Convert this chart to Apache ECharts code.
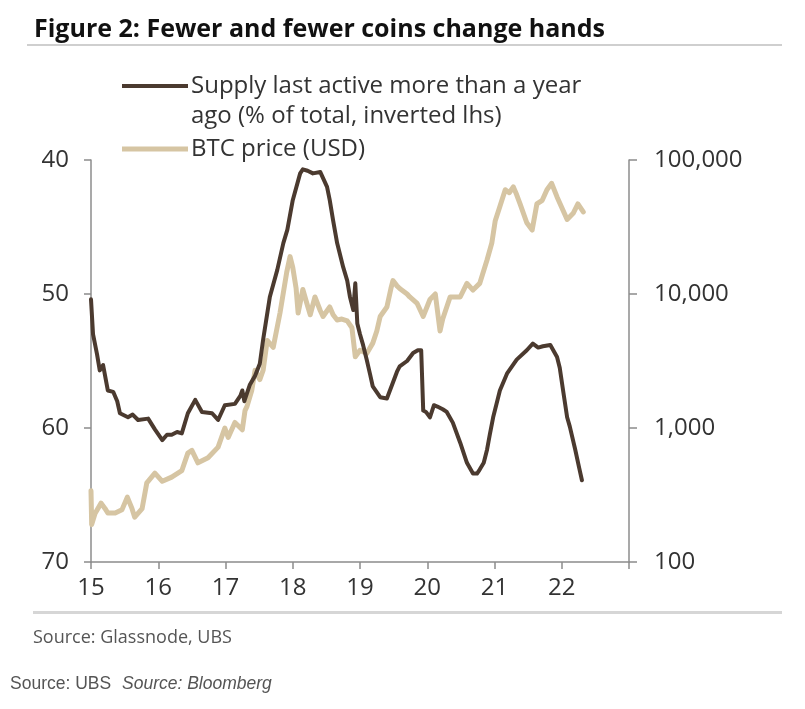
<!DOCTYPE html>
<html>
<head>
<meta charset="utf-8">
<script src="https://cdn.jsdelivr.net/npm/echarts@6/dist/echarts.min.js"></script>
<style>
  html, body { margin: 0; padding: 0; background: #fff; }
  #chart { width: 805px; height: 709px; }
</style>
</head>
<body>
<div id="chart"></div>
<script>
// supply last active more than a year ago, % of total (left axis, inverted)
var supplyYears = [15.00, 15.03, 15.09, 15.13, 15.18, 15.25, 15.33, 15.39, 15.43, 15.55, 15.62, 15.70, 15.85, 15.95,
    16.06, 16.13, 16.20, 16.28, 16.35, 16.44, 16.55, 16.65, 16.80, 16.89, 16.99,
    17.14, 17.22, 17.25, 17.28, 17.36, 17.44, 17.51, 17.56, 17.66, 17.77, 17.86, 17.92,
    18.00, 18.11, 18.15, 18.22, 18.30, 18.41, 18.51, 18.55, 18.60, 18.66, 18.75, 18.81, 18.85, 18.90, 18.93, 18.96,
    19.00, 19.04, 19.10, 19.15, 19.19, 19.30, 19.40, 19.49, 19.55, 19.59, 19.70, 19.79, 19.86, 19.91, 19.94, 19.98,
    20.04, 20.10, 20.15, 20.23, 20.29, 20.38, 20.49, 20.59, 20.68, 20.74, 20.78, 20.84, 20.89, 20.93, 20.98,
    21.04, 21.08, 21.19, 21.33, 21.48, 21.57, 21.65, 21.72, 21.83, 21.93, 21.97,
    22.02, 22.08, 22.12, 22.20, 22.26, 22.30];
var supplyValues = [50.4, 53.0, 54.5, 55.7, 55.3, 57.2, 57.3, 58.0, 58.9, 59.2, 59.0, 59.4, 59.3, 60.1,
    60.9, 60.5, 60.5, 60.3, 60.4, 58.9, 57.9, 58.8, 58.9, 59.4, 58.3,
    58.2, 57.6, 57.2, 58.0, 56.8, 56.1, 55.2, 53.4, 50.2, 48.2, 46.2, 45.2,
    43.0, 41.0, 40.7, 40.8, 41.0, 40.9, 42.0, 43.0, 44.5, 46.2, 48.0, 49.0, 50.2, 51.2, 49.2, 52.2,
    53.0, 53.7, 54.9, 56.0, 56.9, 57.7, 57.8, 56.6, 55.8, 55.4, 55.0, 54.4, 54.2, 54.2, 58.7, 58.8,
    59.2, 58.3, 58.4, 58.6, 58.8, 59.6, 61.1, 62.6, 63.4, 63.4, 63.1, 62.6, 61.6, 60.5, 59.2,
    58.0, 57.2, 55.9, 54.9, 54.2, 53.7, 54.0, 53.9, 53.8, 54.7, 55.5,
    57.2, 59.2, 59.9, 61.6, 63.0, 63.9];

// BTC price in USD (right axis, log)
var priceYears = [15.00, 15.01, 15.06, 15.15, 15.21, 15.25, 15.36, 15.46, 15.54, 15.61, 15.65, 15.76, 15.83, 15.95,
    16.06, 16.20, 16.35, 16.44, 16.50, 16.59, 16.74, 16.89, 16.99,
    17.04, 17.14, 17.25, 17.29, 17.32, 17.39, 17.44, 17.51, 17.56, 17.62, 17.71, 17.81, 17.91, 17.96,
    18.00, 18.05, 18.08, 18.15, 18.21, 18.26, 18.33, 18.41, 18.45, 18.51, 18.55, 18.60, 18.66, 18.73, 18.81, 18.88, 18.93,
    19.00, 19.10, 19.19, 19.25, 19.30, 19.40, 19.46, 19.49, 19.55, 19.59, 19.70, 19.74, 19.85, 19.94,
    20.04, 20.12, 20.19, 20.23, 20.34, 20.49, 20.59, 20.68, 20.78, 20.89, 20.96,
    21.01, 21.08, 21.16, 21.22, 21.28, 21.33, 21.38, 21.48, 21.56, 21.63, 21.71, 21.78, 21.85, 21.93,
    22.02, 22.08, 22.17, 22.24, 22.32];
var priceValues = [340, 190, 230, 275, 250, 232, 232, 245, 305, 250, 216, 250, 390, 460,
    400, 430, 480, 650, 680, 550, 600, 720, 1000,
    850, 1100, 970, 1350, 1450, 1900, 2700, 2300, 2700, 4500, 4000, 7200, 14500, 19000,
    15800, 11000, 7200, 10800, 8500, 7000, 9500, 7500, 6800, 7500, 8000, 7000, 6400, 6500, 6300, 5600, 3400,
    3800, 3600, 4300, 5300, 6800, 8000, 11000, 12600, 11500, 11000, 10000, 9500, 8500, 6800,
    9100, 10000, 5300, 6500, 9500, 9500, 12000, 10700, 12000, 18000, 24000,
    35000, 45000, 60000, 57000, 63000, 55000, 47000, 34000, 30000, 47000, 50000, 60000, 67000, 53000,
    42000, 36000, 40000, 47000, 41000];

var xTicks = [15, 16, 17, 18, 19, 20, 21, 22];

var darkColor = '#4b3a2f';
var tanColor = '#d6c5a3';
var axisColor = '#8c8c8c';
var textColor = '#333333';
var font = '"Open Sans", "Noto Sans", sans-serif';
var srcFont = '"Liberation Sans", Arial, sans-serif';

function pairs(xs, ys) {
    return xs.map(function (x, i) { return [x, ys[i]]; });
}

var myChart = echarts.init(document.getElementById('chart'));

var option = {
    animation: false,
    backgroundColor: '#ffffff',
    textStyle: { fontFamily: font },
    grid: { left: 91, right: 176, top: 160, bottom: 147, containLabel: false },
    xAxis: {
        type: 'value',
        min: 15,
        max: 23,
        interval: 1,
        splitLine: { show: false },
        axisLine: { lineStyle: { color: axisColor, width: 1.5 } },
        axisTick: { show: true, length: 7, lineStyle: { color: axisColor, width: 1.5 } },
        axisLabel: {
            margin: 14,
            fontSize: 24,
            color: textColor,
            fontFamily: font,
            formatter: function (v) { return xTicks.indexOf(v) >= 0 ? String(v) : ''; }
        }
    },
    yAxis: [{
        type: 'value',
        inverse: true,
        min: 40,
        max: 70,
        interval: 10,
        position: 'left',
        splitLine: { show: false },
        axisLine: { show: true, lineStyle: { color: axisColor, width: 1.5 } },
        axisTick: { show: true, length: 7, lineStyle: { color: axisColor, width: 1.5 } },
        axisLabel: { margin: 22, fontSize: 24, color: textColor, fontFamily: font }
    }, {
        type: 'log',
        logBase: 10,
        min: 100,
        max: 100000,
        position: 'right',
        splitLine: { show: false },
        axisLine: { show: true, lineStyle: { color: axisColor, width: 1.5 } },
        axisTick: { show: true, length: 8, lineStyle: { color: axisColor, width: 1.5 } },
        minorTick: { show: false },
        axisLabel: {
            margin: 25,
            fontSize: 24,
            color: textColor,
            fontFamily: font,
            formatter: function (v) { return Math.round(v).toLocaleString('en-US'); }
        }
    }],
    series: [{
        name: 'BTC price (USD)',
        type: 'line',
        yAxisIndex: 1,
        showSymbol: false,
        symbol: 'none',
        lineStyle: { color: tanColor, width: 5, join: 'round', cap: 'round' },
        data: pairs(priceYears, priceValues)
    }, {
        name: 'Supply last active more than a year ago (% of total, inverted lhs)',
        type: 'line',
        yAxisIndex: 0,
        showSymbol: false,
        symbol: 'none',
        lineStyle: { color: darkColor, width: 4, join: 'round', cap: 'round' },
        data: pairs(supplyYears, supplyValues)
    }],
    graphic: [
        // title and rules
        { type: 'text', x: 34, y: 30, style: { text: 'Figure 2: Fewer and fewer coins change hands', font: 'bold 25px ' + font, fill: '#111', verticalAlign: 'middle' } },
        { type: 'rect', shape: { x: 27, y: 44, width: 755, height: 2 }, style: { fill: '#cfcfcf' } },
        { type: 'rect', shape: { x: 33, y: 611, width: 749, height: 3 }, style: { fill: '#d6d6d6' } },
        // legend
        { type: 'line', shape: { x1: 122, y1: 86, x2: 188, y2: 86 }, style: { stroke: darkColor, lineWidth: 4 } },
        { type: 'text', x: 191, y: 86, style: { text: 'Supply last active more than a year', font: '24px ' + font, fill: textColor, verticalAlign: 'middle' } },
        { type: 'text', x: 191, y: 116, style: { text: 'ago (% of total, inverted lhs)', font: '24px ' + font, fill: textColor, verticalAlign: 'middle' } },
        { type: 'line', shape: { x1: 122, y1: 149, x2: 188, y2: 149 }, style: { stroke: tanColor, lineWidth: 5 } },
        { type: 'text', x: 191, y: 149, style: { text: 'BTC price (USD)', font: '24px ' + font, fill: textColor, verticalAlign: 'middle' } },
        // sources
        { type: 'text', x: 33, y: 638, style: { text: 'Source: Glassnode, UBS', font: '18px ' + font, fill: '#555', verticalAlign: 'middle' } },
        { type: 'text', x: 10, y: 684, style: { text: 'Source: UBS', font: '17.5px ' + srcFont, fill: '#555', verticalAlign: 'middle' } },
        { type: 'text', x: 122, y: 684, style: { text: 'Source: Bloomberg', font: 'italic 17.5px ' + srcFont, fill: '#555', verticalAlign: 'middle' } }
    ]
};

myChart.setOption(option);
</script>
</body>
</html>
